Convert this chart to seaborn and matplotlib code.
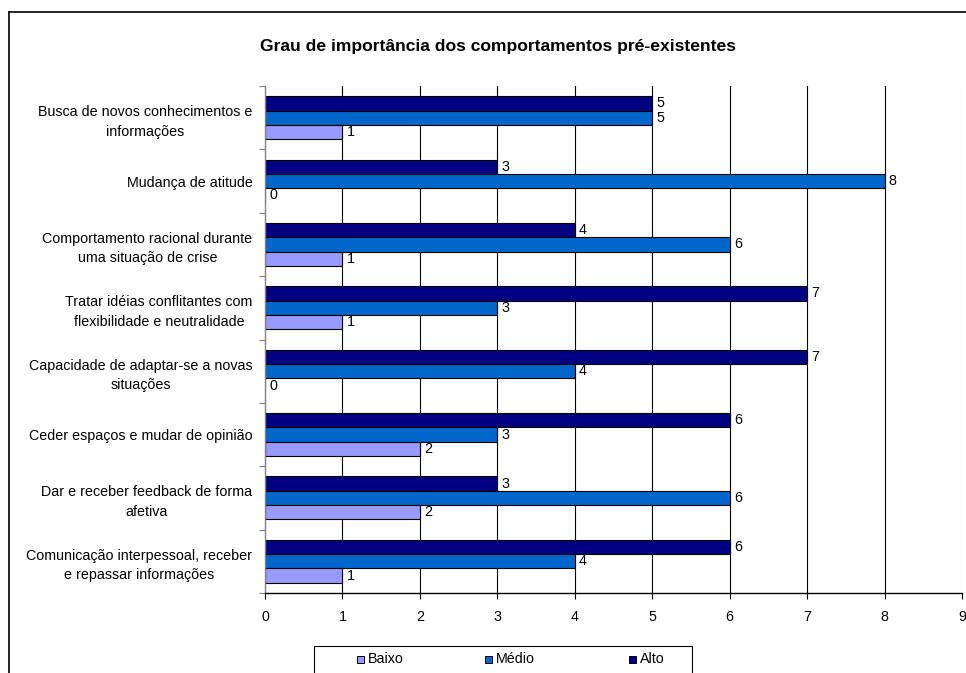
import matplotlib
matplotlib.use("Agg")
import matplotlib.pyplot as plt
from matplotlib.patches import Rectangle
from matplotlib.lines import Line2D
import seaborn as sns
import pandas as pd

categories = [
    "Busca de novos conhecimentos e\ninformações",
    "Mudança de atitude",
    "Comportamento racional durante\numa situação de crise",
    "Tratar idéias conflitantes com\nflexibilidade e neutralidade",
    "Capacidade de adaptar-se a novas\nsituações",
    "Ceder espaços e mudar de opinião",
    "Dar e receber feedback de forma\nafetiva",
    "Comunicação interpessoal, receber\ne repassar informações",
]
baixo = [1, 0, 1, 1, 0, 2, 2, 1]
medio = [5, 8, 6, 3, 4, 3, 6, 4]
alto = [5, 3, 4, 7, 7, 6, 3, 6]
series_names = ["Baixo", "Médio", "Alto"]
colors = {"Baixo": "#9999FF", "Médio": "#0066CC", "Alto": "#000080"}
title = "Grau de importância dos comportamentos pré-existentes"
x_ticks = list(range(0, 10))

plt.rcParams["font.family"] = ["Liberation Sans", "DejaVu Sans"]

rows = []
for name, vals in zip(series_names, [baixo, medio, alto]):
    for c, v in zip(categories, vals):
        rows.append({"cat": c, "serie": name, "valor": v})
df = pd.DataFrame(rows)

W, H = 966, 673
fig = plt.figure(figsize=(W / 100, H / 100), dpi=100)
ax = fig.add_axes([265 / W, 1 - 593 / H, 697 / W, 507 / H])

sns.barplot(data=df, y="cat", x="valor", hue="serie", order=categories,
            hue_order=["Alto", "Médio", "Baixo"], palette=colors,
            orient="h", width=0.68, saturation=1, edgecolor="black",
            linewidth=0.8, legend=False, errorbar=None, ax=ax)

for cont in ax.containers:
    ax.bar_label(cont, fmt="{:.0f}", padding=3, fontsize=10.3)

ax.set_xlim(0, 9)
ax.set_ylim(len(categories) - 0.5, -0.5)
ax.set_xticks(x_ticks)
ax.set_xlabel("")
ax.set_ylabel("")
ax.set_axisbelow(True)
ax.grid(axis="x", color="black", linewidth=0.8)
ax.grid(axis="y", visible=False)
gl = ax.get_xgridlines()
gl[0].set_visible(False)
gl[-1].set_color("#c8c8c8")

ax.tick_params(axis="x", direction="out", length=4, width=0.8, pad=8, labelsize=10.3, color="black")
ax.tick_params(axis="y", which="major", length=0, pad=9, labelsize=10.3)
ax.set_yticks([i + 0.5 for i in range(-1, len(categories))], minor=True)
ax.tick_params(axis="y", which="minor", direction="out", length=4, width=0.8, color="#808080")
for t in ax.get_yticklabels():
    t.set_multialignment("center")
    t.set_linespacing(1.5)

for s in ["top", "right"]:
    ax.spines[s].set_visible(False)
ax.spines["left"].set_color("#808080")
ax.spines["left"].set_linewidth(1)
ax.spines["bottom"].set_color("black")
ax.spines["bottom"].set_linewidth(1)

fig.text(498 / W, 1 - 47 / H, title, ha="center", va="center",
         fontsize=12.6, fontweight="bold")

# figure frame
fig.lines.append(Line2D([9 / W, 1], [1 - 12 / H, 1 - 12 / H], transform=fig.transFigure,
                        color="black", linewidth=1.2))
fig.lines.append(Line2D([9 / W, 9 / W], [0, 1 - 12 / H], transform=fig.transFigure,
                        color="black", linewidth=1.2))

# legend box (extends below the picture edge)
box_top = 646
fig.patches.append(Rectangle((314 / W, -20 / H), (692 - 314) / W, (H - box_top + 20) / H,
                             transform=fig.transFigure, facecolor="white",
                             edgecolor="black", linewidth=0.8))
for name, xp in zip(series_names, [357, 485, 629]):
    fig.patches.append(Rectangle((xp / W, 1 - (659 + 3.5) / H), 7 / W, 7 / H,
                                 transform=fig.transFigure, facecolor=colors[name],
                                 edgecolor="black", linewidth=0.7))
    fig.text((xp + 11) / W, 1 - 659 / H, name, ha="left", va="center", fontsize=10.3)

fig.savefig("out.png", dpi=100)
